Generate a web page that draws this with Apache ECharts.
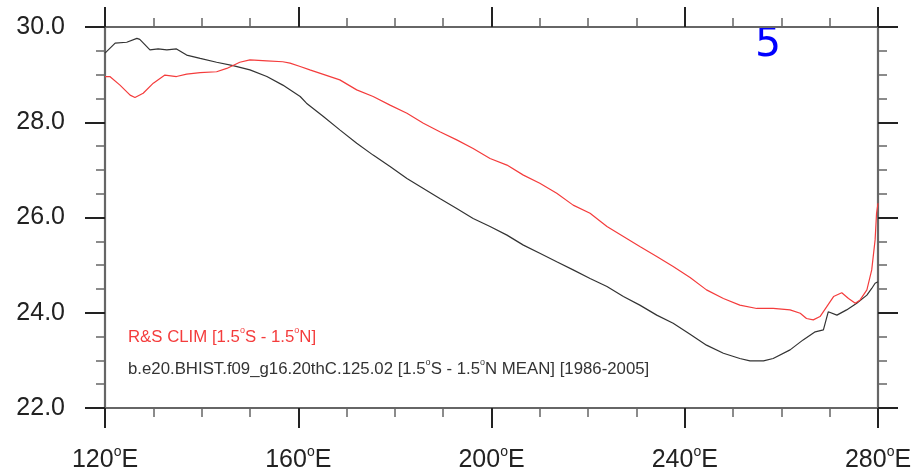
<!DOCTYPE html>
<html>
<head>
<meta charset="utf-8">
<script src="https://cdn.jsdelivr.net/npm/echarts@6/dist/echarts.min.js"></script>
<style>html,body{margin:0;padding:0;background:#fff}#c{width:919px;height:475px}</style>
</head>
<body>
<div id="c"></div>
<script>
// Longitudes (deg E) and SST values
const modelLon = [120.0,122.1,124.5,126.6,127.2,129.3,131.0,132.8,134.8,136.9,139.7,143.1,146.5,150.0,153.5,156.8,160.4,161.7,165.2,168.6,172.1,175.5,179.0,182.5,185.9,189.3,192.8,196.2,199.7,203.2,206.6,210.0,213.5,216.9,220.4,223.9,227.3,230.7,234.2,237.6,241.1,244.5,248.0,251.4,253.5,256.3,258.3,261.8,264.5,267.0,268.7,269.7,271.5,273.5,275.6,277.7,278.7,279.4,280.0];
const modelSST = [29.45,29.66,29.68,29.76,29.74,29.52,29.54,29.52,29.54,29.41,29.34,29.26,29.19,29.10,28.96,28.78,28.54,28.40,28.12,27.84,27.56,27.31,27.07,26.82,26.61,26.40,26.19,25.98,25.81,25.63,25.42,25.25,25.07,24.90,24.72,24.55,24.34,24.16,23.95,23.78,23.55,23.32,23.15,23.04,22.99,22.99,23.04,23.22,23.43,23.60,23.64,24.02,23.95,24.06,24.20,24.37,24.51,24.62,24.65];
const obsLon = [120.0,121.0,123.1,125.2,126.2,127.9,130.0,132.4,134.8,136.9,139.7,143.1,145.2,147.9,150.0,153.5,156.8,158.3,160.4,162.4,168.6,172.1,175.5,179.0,182.5,185.9,189.3,192.8,196.2,199.7,203.2,206.6,210.0,213.5,216.9,220.4,223.9,227.3,230.7,234.2,237.6,241.1,244.5,248.0,251.4,254.9,258.3,261.8,263.9,265.2,266.6,268.0,269.4,270.8,272.5,273.9,275.3,276.3,277.7,278.7,279.4,279.7,280.0];
const obsSST = [28.96,28.96,28.78,28.57,28.52,28.61,28.82,28.99,28.96,29.01,29.04,29.06,29.13,29.26,29.31,29.29,29.27,29.24,29.17,29.10,28.89,28.68,28.54,28.36,28.19,27.98,27.80,27.63,27.45,27.24,27.10,26.89,26.72,26.51,26.26,26.09,25.81,25.60,25.39,25.18,24.97,24.74,24.48,24.30,24.16,24.09,24.09,24.06,23.99,23.88,23.85,23.92,24.13,24.34,24.42,24.30,24.20,24.27,24.48,24.90,25.53,26.09,26.30];
const xTicks = [120,160,200,240,280];
const yTicks = [22,24,26,28,30];
const obsLabel = ['R&S CLIM [1.5','S - 1.5','N]'];
const modelLabel = ['b.e20.BHIST.f09_g16.20thC.125.02 [1.5','S - 1.5','N MEAN] [1986-2005]'];
const panelLabel = '5';

const zip = (a,b) => a.map((v,i)=>[v,b[i]]);
const FONT = '"Liberation Sans", Arial, sans-serif';
const axisLineStyle = {color:'#666', width:2.2};
const majorTick = {show:true, inside:false, length:20, lineStyle:{color:'#222', width:2}};
const minorTick = {show:true, splitNumber:4, length:9, lineStyle:{color:'#666', width:1.5}};

const supText = parts => parts.map((p,i)=> i<parts.length-1 ? '{t|'+p+'}{s|o}' : '{t|'+p+'}').join('');

const chart = echarts.init(document.getElementById('c'), null, {renderer:'canvas'});
chart.setOption({
  animation:false,
  backgroundColor:'#fff',
  grid:{left:105, right:41, top:27, bottom:67, containLabel:false},
  xAxis:[{
    type:'value', min:xTicks[0], max:xTicks[xTicks.length-1], interval:40, position:'bottom',
    axisLine:{show:true, onZero:false, lineStyle:axisLineStyle},
    axisTick:majorTick, minorTick:minorTick, splitLine:{show:false},
    axisLabel:{margin:37, formatter: v => '{n|'+v+'}{s|o}{n|E}',
      rich:{n:{fontFamily:FONT, fontSize:25, color:'#222', lineHeight:28, verticalAlign:'bottom'},
            s:{fontFamily:FONT, fontSize:14, color:'#222', lineHeight:28, verticalAlign:'top'}}}
  },{
    type:'value', min:xTicks[0], max:xTicks[xTicks.length-1], interval:40, position:'top',
    axisLine:{show:true, onZero:false, lineStyle:axisLineStyle},
    axisTick:majorTick, minorTick:minorTick, splitLine:{show:false}, axisLabel:{show:false}
  }],
  yAxis:[{
    type:'value', min:yTicks[0], max:yTicks[yTicks.length-1], interval:2, position:'left',
    axisLine:{show:true, onZero:false, lineStyle:axisLineStyle},
    axisTick:majorTick, minorTick:minorTick, splitLine:{show:false},
    axisLabel:{margin:40, formatter: v => v.toFixed(1), fontFamily:FONT, fontSize:25, color:'#222', padding:[6,0,0,0]}
  },{
    type:'value', min:yTicks[0], max:yTicks[yTicks.length-1], interval:2, position:'right',
    axisLine:{show:true, onZero:false, lineStyle:axisLineStyle},
    axisTick:majorTick, minorTick:minorTick, splitLine:{show:false}, axisLabel:{show:false}
  }],
  series:[{
    name:'model', type:'line', xAxisIndex:0, yAxisIndex:0, data:zip(modelLon, modelSST),
    showSymbol:false, lineStyle:{color:'#333', width:1.2}, z:3
  },{
    name:'obs', type:'line', xAxisIndex:0, yAxisIndex:0, data:zip(obsLon, obsSST),
    showSymbol:false, lineStyle:{color:'#f43c3c', width:1.2}, z:4
  }],
  graphic:[{
    type:'text', left:128, top:326,
    style:{text:supText(obsLabel),
      rich:{t:{fontFamily:FONT, fontSize:16.8, fill:'#f43c3c', lineHeight:20, verticalAlign:'bottom'},
            s:{fontFamily:FONT, fontSize:9, fill:'#f43c3c', lineHeight:20, verticalAlign:'top'}}}
  },{
    type:'text', left:128, top:358,
    style:{text:supText(modelLabel),
      rich:{t:{fontFamily:FONT, fontSize:16.8, fill:'#333', lineHeight:20, verticalAlign:'bottom'},
            s:{fontFamily:FONT, fontSize:9, fill:'#333', lineHeight:20, verticalAlign:'top'}}}
  },{
    type:'text', left:755, top:25,
    style:{text:panelLabel, fontFamily:'"DejaVu Sans", sans-serif', fontSize:41, fill:'#0000ff'}
  }]
});
</script>
</body>
</html>
